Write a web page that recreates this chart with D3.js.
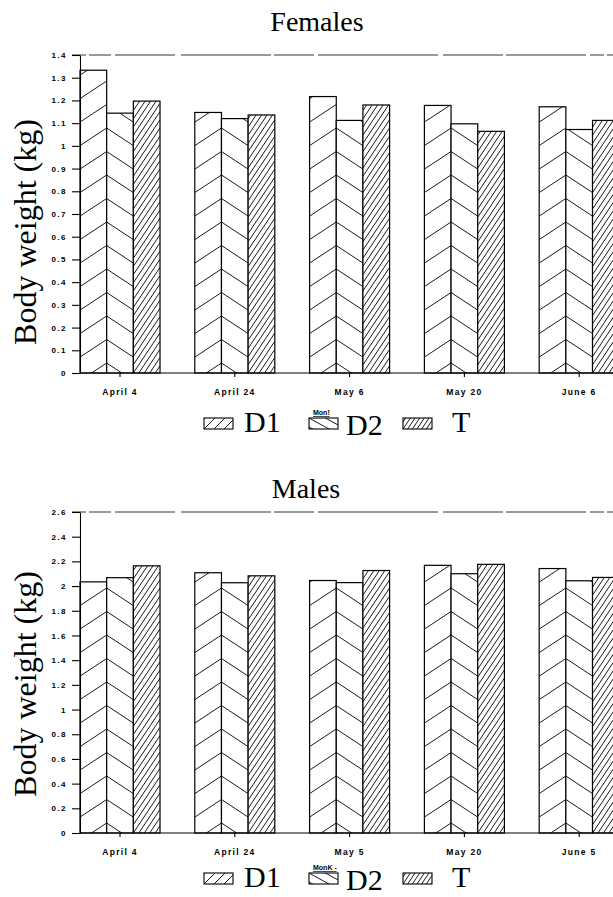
<!DOCTYPE html>
<html><head><meta charset="utf-8">
<script src="https://cdn.jsdelivr.net/npm/d3@7"></script>
<style>body{margin:0;background:#fff}svg{display:block}</style>
</head><body>
<svg id="c" width="613" height="897"></svg>
<script>
// ---------- data ----------
const seriesNames = ["D1", "D2", "T"];
const femaleDates = ["April 4", "April 24", "May 6", "May 20", "June 6"];
const maleDates = ["April 4", "April 24", "May 5", "May 20", "June 5"];
const femaleD1 = [1.333, 1.147, 1.217, 1.178, 1.172];
const femaleD2 = [1.144, 1.120, 1.112, 1.097, 1.072];
const femaleT  = [1.197, 1.136, 1.180, 1.064, 1.112];
const maleD1 = [2.034, 2.108, 2.045, 2.168, 2.142];
const maleD2 = [2.068, 2.027, 2.028, 2.100, 2.043];
const maleT  = [2.164, 2.083, 2.126, 2.176, 2.070];
const femaleTicks = [0, 0.1, 0.2, 0.3, 0.4, 0.5, 0.6, 0.7, 0.8, 0.9, 1, 1.1, 1.2, 1.3, 1.4];
const maleTicks = [0, 0.2, 0.4, 0.6, 0.8, 1, 1.2, 1.4, 1.6, 1.8, 2, 2.2, 2.4, 2.6];
const yTitle = "Body weight (kg)";

// ---------- layout ----------
const svg = d3.select("#c");
const SERIF = "'Liberation Serif','Times New Roman',serif";
const SANS = "'Liberation Sans',Arial,sans-serif";
let clipId = 0;

function hatch(g, x, y, w, h, dir, m, S, xA, yA, sw) {
  const id = "cl" + (clipId++);
  g.append("clipPath").attr("id", id).append("rect")
    .attr("x", x).attr("y", y).attr("width", w).attr("height", h);
  const hg = g.append("g").attr("clip-path", `url(#${id})`);
  const ys = [x, x + w].map(X => yA - dir * m * (X - xA));
  const kmin = Math.floor((Math.min(...ys) - (y + h)) / S) - 1;
  const kmax = Math.ceil((Math.max(...ys) - y) / S) + 1;
  for (let k = kmin; k <= kmax; k++) {
    const y1 = yA - k * S - dir * m * (x - xA);
    const y2 = yA - k * S - dir * m * (x + w - xA);
    hg.append("line").attr("x1", x).attr("y1", y1).attr("x2", x + w).attr("y2", y2)
      .attr("stroke", "#000").attr("stroke-width", sw || 0.9);
  }
}

function panel(cfg) {
  const g = svg.append("g");
  const x0 = d3.scaleBand().domain(cfg.cats).range([80, 619.2]).paddingInner(0.303).paddingOuter(0);
  const x1 = d3.scaleBand().domain(seriesNames).range([0, x0.bandwidth()]);
  const y = d3.scaleLinear().domain([0, cfg.max]).range([cfg.base, cfg.top]);
  const bw = x1.bandwidth();

  g.append("text").attr("x", cfg.titleX).attr("y", cfg.titleY).attr("text-anchor", "middle")
    .attr("font-family", SERIF).attr("font-size", 28).text(cfg.title);

  g.append("line").attr("x1", 72).attr("x2", 613).attr("y1", y(cfg.max)).attr("y2", y(cfg.max))
    .attr("stroke", "#000").attr("stroke-width", 0.8)
    .attr("stroke-dasharray", "14,3,22,4,60,6,90,3,40,4,120,5,60,3,80,4");

  const rows = cfg.cats.map((c, i) => ({ cat: c, vals: [cfg.d1[i], cfg.d2[i], cfg.t[i]] }));
  rows.forEach(r => {
    r.vals.forEach((v, j) => {
      const s = seriesNames[j];
      const bx = x0(r.cat) + x1(s);
      const by = y(v);
      const bh = cfg.base - by;
      const bg = g.append("g");
      bg.append("rect").attr("x", bx).attr("y", by).attr("width", bw).attr("height", bh).attr("fill", "#fff");
      if (s === "D1") hatch(bg, bx, by, bw, bh, 1, 0.66, 23.5, bx + bw, cfg.base - 10);
      else if (s === "D2") hatch(bg, bx, by, bw, bh, -1, 0.66, 23.5, bx, cfg.base - 10);
      else hatch(bg, bx, by, bw, bh, 1, 1.5, 8.2, bx, cfg.base);
      bg.append("rect").attr("x", bx).attr("y", by).attr("width", bw).attr("height", bh)
        .attr("fill", "none").attr("stroke", "#000").attr("stroke-width", 1.2);
    });
  });

  const ya = g.append("g").attr("transform", "translate(80,0)")
    .call(d3.axisLeft(y).tickValues(cfg.ticks).tickSize(8).tickSizeOuter(0).tickPadding(5)
      .tickFormat(d => String(+d.toFixed(1))));
  ya.selectAll("path,line").attr("stroke", "#000").attr("stroke-width", 1.1);
  ya.selectAll("text").attr("font-family", SANS).attr("font-size", 8).attr("font-weight", "bold")
    .attr("letter-spacing", 1.5).attr("fill", "#000");

  const xa = g.append("g").attr("transform", `translate(0,${cfg.base})`)
    .call(d3.axisBottom(x0).tickSize(4).tickSizeOuter(0).tickPadding(12));
  xa.select(".domain").attr("d", `M80,0H613`).attr("stroke", "#000").attr("stroke-width", 1.1);
  xa.selectAll("line").attr("stroke", "#000").attr("stroke-width", 1.1);
  xa.selectAll("text").attr("font-family", SANS).attr("font-size", 8.5).attr("font-weight", "bold")
    .attr("letter-spacing", 1.3).attr("fill", "#000");

  g.append("text").attr("transform", `translate(36,${cfg.yTitleY}) rotate(-90)`)
    .attr("text-anchor", "middle").attr("font-family", SERIF).attr("font-size", 32).text(yTitle);

  const L = cfg.legendY;
  const boxes = [
    { s: "D1", bx: 204, tx: 244, dy: 0 },
    { s: "D2", bx: 309, tx: 346, dy: 3 },
    { s: "T", bx: 403, tx: 452, dy: 0 }
  ];
  boxes.forEach(b => {
    const lg = g.append("g");
    lg.append("rect").attr("x", b.bx).attr("y", L).attr("width", 29).attr("height", 11).attr("fill", "#fff");
    if (b.s === "D1") hatch(lg, b.bx, L, 29, 11, 1, 1.0, 10, b.bx, L + 11);
    else if (b.s === "D2") hatch(lg, b.bx, L, 29, 11, -1, 0.55, 9, b.bx, L);
    else hatch(lg, b.bx, L, 29, 11, 1, 1.5, 7, b.bx, L + 11);
    lg.append("rect").attr("x", b.bx).attr("y", L).attr("width", 29).attr("height", 11)
      .attr("fill", "none").attr("stroke", "#000").attr("stroke-width", 1.1);
    lg.append("text").attr("x", b.tx).attr("y", L + 14 + b.dy).attr("font-family", SERIF)
      .attr("font-size", 30).text(b.s);
  });
  g.append("text").attr("x", 313).attr("y", L - 3).attr("font-family", SANS).attr("font-size", 7)
    .attr("font-weight", "bold").attr("text-decoration", "underline").text(cfg.mark);
}

panel({ title: "Females", titleX: 317, titleY: 31, cats: femaleDates, d1: femaleD1, d2: femaleD2, t: femaleT,
  max: 1.4, ticks: femaleTicks, base: 373, top: 55, yTitleY: 232, legendY: 418, mark: "Mon!" });
panel({ title: "Males", titleX: 306, titleY: 498, cats: maleDates, d1: maleD1, d2: maleD2, t: maleT,
  max: 2.6, ticks: maleTicks, base: 833, top: 512, yTitleY: 684, legendY: 873, mark: "MonK -" });
</script>
</body></html>
